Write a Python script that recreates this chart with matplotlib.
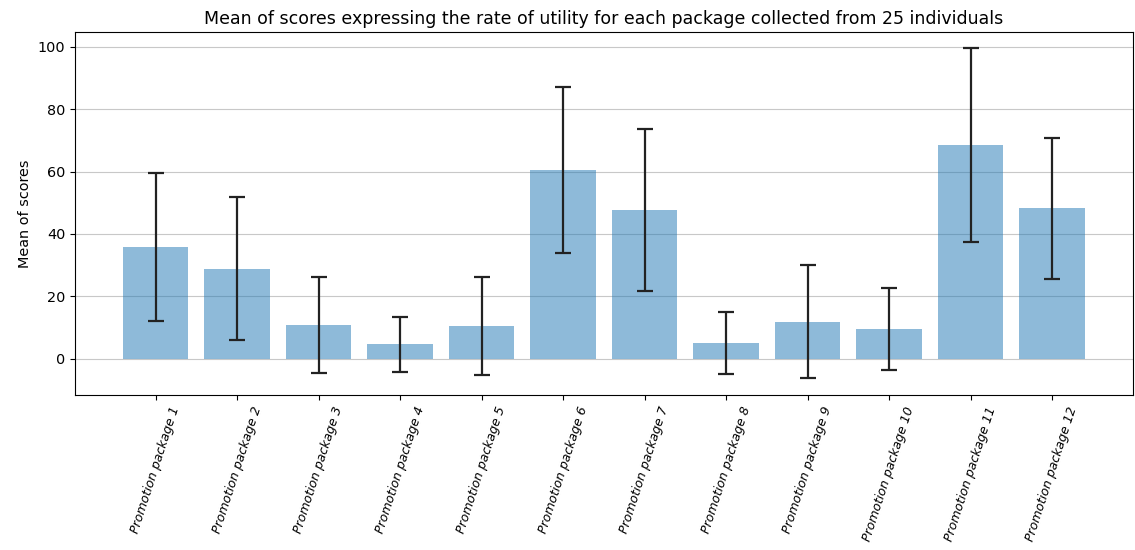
import matplotlib
matplotlib.use("Agg")
import matplotlib.pyplot as plt
import numpy as np

packages = [f"Promotion package {i}" for i in range(1, 13)]
mean_scores = [35.8, 28.9, 10.8, 4.7, 10.5, 60.5, 47.7, 5.0, 11.9, 9.6, 68.4, 48.2]
std_scores = [23.8, 22.9, 15.4, 8.8, 15.6, 26.7, 26.1, 9.9, 18.2, 13.1, 31.1, 22.6]

fig = plt.figure(figsize=(11.35, 5.5), dpi=100)
ax = fig.add_axes([0.066, 0.282, 0.932, 0.66])

x_pos = np.arange(len(packages))
ax.bar(x_pos, mean_scores, yerr=std_scores, align="center", alpha=0.5,
       ecolor="#222222", capsize=6, error_kw={"elinewidth": 1.6, "capthick": 1.6})
ax.set_ylabel("Mean of scores", fontsize=10.4)
ax.set_xticks(x_pos)
ax.set_xticklabels(packages, rotation=72, fontsize=9, style="italic")
ax.tick_params(axis="y", labelsize=10.4)
ax.set_title("Mean of scores expressing the rate of utility for each package collected from 25 individuals",
             fontsize=12.5)
ax.yaxis.grid(True, color="#c8c8c8")
ax.set_axisbelow(True)

fig.savefig("out.png", dpi=100)
